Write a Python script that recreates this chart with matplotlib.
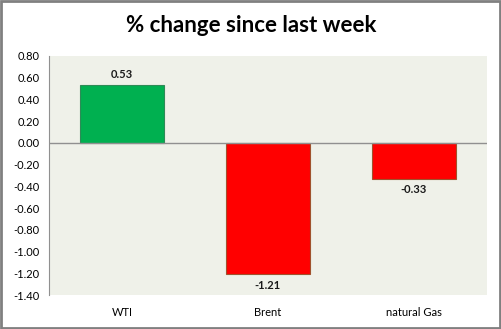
import matplotlib
matplotlib.use('Agg')
import matplotlib.pyplot as plt
from matplotlib.patches import Rectangle

categories = ['WTI', 'Brent', 'natural Gas']
values = [0.53, -1.21, -0.33]
yticks = [0.80, 0.60, 0.40, 0.20, 0.00, -0.20, -0.40, -0.60, -0.80, -1.00, -1.20, -1.40]

plt.rcParams['font.family'] = ['Lato', 'DejaVu Sans']

fig = plt.figure(figsize=(5.02, 3.29), dpi=100)
ax = fig.add_axes([49 / 502, 1 - 295 / 329, 438 / 502, 239 / 329])
ax.set_facecolor('#EFF1E9')

colors = ['#00B050' if v > 0 else '#FF0000' for v in values]
edges = ['#2E8B57' if v > 0 else '#A0522D' for v in values]
x = range(len(categories))
ax.bar(x, values, width=0.57, color=colors, edgecolor=edges, linewidth=0.8, zorder=3)
ax.axhline(0, color='#909090', linewidth=1, zorder=4)

for i, v in enumerate(values):
    off = 0.1 if v > 0 else -0.1
    ax.text(i, v + off, f'{v:.2f}', ha='center', va='center', fontsize=8,
            fontweight='bold', color='#1a1a1a')

ax.set_xlim(-0.5, 2.5)
ax.set_ylim(-1.40, 0.80)
ax.set_yticks(yticks)
ax.set_yticklabels([f'{t:.2f}' for t in yticks], fontsize=8)
ax.set_xticks(list(x))
ax.set_xticklabels(categories, fontsize=8)
ax.tick_params(axis='both', length=0, pad=7)
ax.tick_params(axis='x', pad=9)
for s in ['top', 'right', 'bottom']:
    ax.spines[s].set_visible(False)
ax.spines['left'].set_color('#909090')

fig.text(0.5, 1 - 25 / 329, '% change since last week', ha='center', va='center',
         fontsize=16, fontweight='bold')
fig.patches.append(Rectangle((0.002, 0.003), 0.995, 0.994, transform=fig.transFigure,
                             fill=False, edgecolor='#808080', linewidth=2))

fig.savefig('out.png', dpi=100)
